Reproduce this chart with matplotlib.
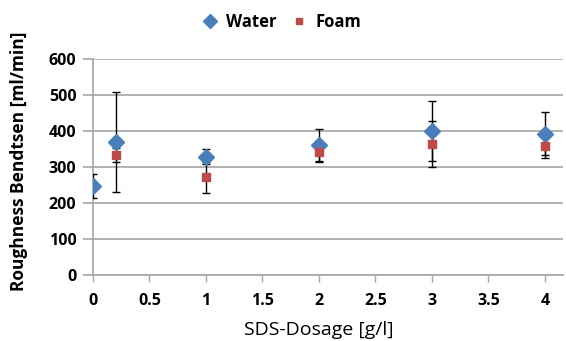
import matplotlib
matplotlib.use("Agg")
import matplotlib.pyplot as plt
from matplotlib.lines import Line2D

plt.rcParams['font.family'] = ['Open Sans', 'DejaVu Sans']

# SDS dosage [g/l]
water_x = [0, 0.2, 1, 2, 3, 4]
foam_x = [0.2, 1, 2, 3, 4]

# roughness Bendtsen [ml/min] with standard deviation
water_y = [247, 369, 329, 361, 400, 392]
water_err = [33, 138, 20, 44, 83, 60]
foam_y = [333, 271, 343, 364, 359]
foam_err = [20, 42, 30, 63, 35]

x_ticks = [0, 0.5, 1, 1.5, 2, 2.5, 3, 3.5, 4]
y_ticks = [0, 100, 200, 300, 400, 500, 600]

blue = '#4a7ebb'
red = '#be4b48'
grid_c = '#a6a6a6'

fig = plt.figure(figsize=(5.66, 3.41), dpi=100)
ax = fig.add_axes([93 / 566, 66 / 341, 470 / 566, 216 / 341])

ax.errorbar(water_x, water_y, yerr=water_err, fmt='D', color=blue, ms=8,
            ecolor='black', elinewidth=1, capsize=2.6, capthick=1, zorder=3)
ax.errorbar(foam_x, foam_y, yerr=foam_err, fmt='s', color=red, ms=5.5,
            ecolor='black', elinewidth=1, capsize=2.6, capthick=1, zorder=3)

ax.set_xlim(0, 4.16)
ax.set_ylim(0, 600)
ax.set_xticks(x_ticks)
ax.set_xticklabels([f'{t:g}' for t in x_ticks])
ax.set_yticks(y_ticks)

ax.grid(axis='y', color=grid_c, linewidth=1.2)
ax.set_axisbelow(True)
for side in ['top', 'right']:
    ax.spines[side].set_visible(False)
for side in ['left', 'bottom']:
    ax.spines[side].set_color(grid_c)
    ax.spines[side].set_linewidth(1.2)
ax.tick_params(axis='y', length=7, width=1.2, color=grid_c, pad=5)
ax.tick_params(axis='x', length=5, width=1, color=grid_c, pad=8)
for lbl in ax.get_xticklabels() + ax.get_yticklabels():
    lbl.set_fontsize(11.5)
    lbl.set_fontweight('bold')

ax.set_ylabel('Roughness Bendtsen [ml/min]', fontsize=12.5, fontweight='bold', va='center')
ax.yaxis.set_label_coords(-0.158, 0.528)
ax.set_xlabel('SDS-Dosage [g/l]', fontsize=14, va='center')
ax.xaxis.set_label_coords(0.48, -0.255)

handles = [Line2D([], [], marker='D', color=blue, ls='', ms=7),
           Line2D([], [], marker='s', color=red, ls='', ms=5)]
fig.legend(handles, ['Water', 'Foam'], loc='center', bbox_to_anchor=(277 / 566, 1 - 22 / 341),
           ncol=2, frameon=False, handletextpad=0.0, columnspacing=0.3,
           prop={'weight': 'bold', 'size': 12})

fig.savefig('out.png', dpi=100)
